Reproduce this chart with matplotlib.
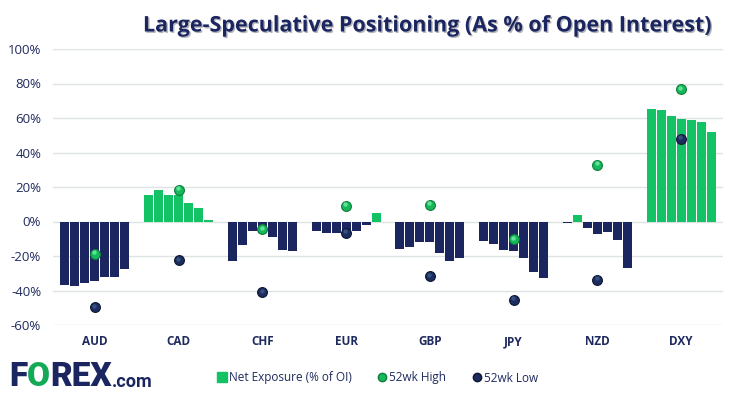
import matplotlib
matplotlib.use("Agg")
import matplotlib.pyplot as plt
import matplotlib.patheffects as pe
from matplotlib.lines import Line2D
import numpy as np

categories = ["AUD", "CAD", "CHF", "EUR", "GBP", "JPY", "NZD", "DXY"]
net_exposure = {
    "AUD": [-36.9, -37.5, -35.7, -34.6, -32.3, -32.3, -27.6],
    "CAD": [15.1, 18.4, 15.1, 15.1, 10.8, 7.7, 0.8],
    "CHF": [-22.8, -13.5, -5.5, -6.5, -8.9, -16.6, -17.0],
    "EUR": [-5.4, -6.6, -6.6, -6.6, -5.4, -1.9, 5.0],
    "GBP": [-16.0, -14.7, -12.0, -12.0, -18.2, -22.8, -21.3],
    "JPY": [-11.2, -12.9, -16.4, -17.0, -21.1, -29.2, -32.9],
    "NZD": [-0.7, 3.7, -3.5, -7.1, -5.8, -10.6, -26.9],
    "DXY": [65.1, 64.5, 61.1, 59.3, 58.7, 57.6, 51.8],
}
high_52wk = [-18.7, 18.4, -4.6, 9.1, 9.7, -10.4, 32.9, 76.7]
low_52wk = [-49.7, -22.4, -40.8, -6.4, -31.7, -45.4, -33.8, 47.9]
yticks = [-60, -40, -20, 0, 20, 40, 60, 80, 100]

GREEN = "#13c265"
NAVY = "#1b2660"
TXT = "#1f2a5e"
FONT = "Open Sans"

fig = plt.figure(figsize=(7.44, 3.96), dpi=100)
ax = fig.add_axes([53/744, 1-325/396, 670/744, 276/396])

step = 10/83.75
width = 9/83.75
for i, cat in enumerate(categories):
    vals = net_exposure[cat]
    for j, v in enumerate(vals):
        x = i + (j - 3) * step
        ax.bar(x, v, width=width, color=GREEN if v >= 0 else NAVY, zorder=2,
               linewidth=0)

x = np.arange(len(categories))
ax.scatter(x, high_52wk, s=50, color="#17b85a", edgecolor="#0d7d3c", linewidth=0.8, zorder=4)
ax.scatter(x - 0.01, np.array(high_52wk) + 0.8, s=10, color="#5fe39a", linewidth=0, zorder=5)
ax.scatter(x, low_52wk, s=50, color="#1c2c5e", edgecolor="#0c1733", linewidth=0.8, zorder=4)
ax.scatter(x - 0.01, np.array(low_52wk) + 0.8, s=10, color="#34507f", linewidth=0, zorder=5)

ax.set_xlim(-0.5, len(categories) - 0.5)
ax.set_ylim(-60, 100)
ax.set_yticks(yticks)
ax.set_yticklabels([f"{t}%" for t in yticks], fontfamily=FONT, fontsize=9.5, color=TXT)
ax.set_xticks(x)
ax.set_xticklabels(categories, fontfamily=FONT, fontsize=8.5, fontweight="bold", color=TXT)
ax.tick_params(axis="both", length=0)
ax.tick_params(axis="x", pad=7.5)
ax.tick_params(axis="y", pad=8.5)
ax.grid(axis="y", color="#dde3e3", linewidth=1, zorder=0)
ax.set_axisbelow(True)
for s in ax.spines.values():
    s.set_visible(False)

fig.text(427/744, 1-26/396, "Large-Speculative Positioning (As % of Open Interest)",
         ha="center", va="center", fontfamily=FONT, fontweight="bold", fontsize=15.5,
         color=NAVY,
         path_effects=[pe.SimplePatchShadow(offset=(1, -1), alpha=0.3), pe.Normal()])

handles = [
    Line2D([], [], marker="s", linestyle="", markersize=7, color=GREEN),
    Line2D([], [], marker="o", linestyle="", markersize=6, color="#17b85a", markeredgecolor="#0d7d3c"),
    Line2D([], [], marker="o", linestyle="", markersize=6, color="#1c2c5e", markeredgecolor="#0c1733"),
]
fig.legend(handles, ["Net Exposure (% of OI)", "52wk High", "52wk Low"],
           loc="center", bbox_to_anchor=(377/744, 1-378/396), ncol=3, frameon=False,
           prop={"family": FONT, "size": 8.5}, labelcolor=TXT, handletextpad=0.1,
           columnspacing=2.1, handlelength=1.0)

# logo
t1 = fig.text(9/744, 1-377/396, "F", fontfamily="Roboto", fontweight="black",
              fontsize=24, color=NAVY, va="center", ha="left")
t2 = ax.annotate("O", xy=(1, 0.5), xycoords=t1, va="center", ha="left",
                 fontfamily="Roboto", fontweight="black", fontsize=24, color="#13a957",
                 annotation_clip=False)
t3 = ax.annotate("REX", xy=(1, 0.5), xycoords=t2, va="center", ha="left",
                 fontfamily="Roboto", fontweight="black", fontsize=24, color=NAVY,
                 annotation_clip=False)
ax.annotate(".com", xy=(1, 0.33), xycoords=t3, va="center", ha="left",
            fontfamily="Roboto", fontweight="bold", fontsize=13, color=NAVY,
            annotation_clip=False)

fig.savefig("out.png", dpi=100)
